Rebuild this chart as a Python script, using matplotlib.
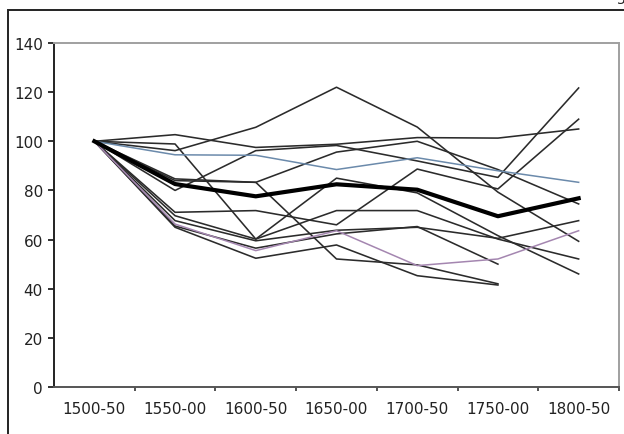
import matplotlib.pyplot as plt
from matplotlib.patches import Rectangle

periods = ["1500-50", "1550-00", "1600-50", "1650-00", "1700-50", "1750-00", "1800-50"]

# thin black series (index 100 = 1500-50); some stop at 1750-00
seriesA = [100, 96.2, 105.7, 122, 105.8, 79.3, 59.3]
seriesB = [100, 102.7, 97.5, 98.8, 101.5, 101.3, 105]
seriesC = [100, 80, 96.2, 98.3, 92, 85.3, 121.7]
seriesD = [100, 84.7, 83.3, 95.6, 100, 88.5, 74.5]
seriesE = [100, 98.9, 60.2, 85, 79, 61.6, 46]
seriesF = [100, 71.1, 71.8, 66, 88.7, 80.6, 109]
seriesG = [100, 69.7, 60.2, 71.8, 71.8, 60.2, 52.1]
seriesH = [100, 67.7, 59.5, 63.8, 65, 60.5, 67.7]
seriesI = [100, 65.5, 56.5, 62.3, 65.3, 50]
seriesJ = [100, 65, 52.4, 57.8, 45.3, 41.5]
seriesK = [100, 84, 83.3, 52.1, 49.7, 42]

blueSeries = [100, 94.5, 94.3, 88.5, 93.3, 88, 83.3]
purpleSeries = [100, 66.3, 55.5, 63.6, 49.4, 52.1, 63.6]
averageSeries = [100, 82.6, 77.6, 82.5, 80.3, 69.5, 76.8]

yTicks = [0, 20, 40, 60, 80, 100, 120, 140]


def makeGraph():
    fig = plt.figure(figsize=(6.24, 4.35), dpi=100)
    ax = fig.add_axes([54/624, 47/435, 565/624, 344/435])

    thinLines = [seriesA, seriesB, seriesC, seriesD, seriesE, seriesF,
                 seriesG, seriesH, seriesI, seriesJ, seriesK]
    for values in thinLines:
        ax.plot(range(len(values)), values, color="#2b2b2b", linewidth=1.15)

    ax.plot(range(len(purpleSeries)), purpleSeries, color="#a486b0", linewidth=1.1)
    ax.plot(range(len(blueSeries)), blueSeries, color="#6b8aab", linewidth=1.1)
    ax.plot(range(len(averageSeries)), averageSeries, color="black", linewidth=3)

    ax.set_xlim(-0.5, len(periods) - 0.5)
    ax.set_ylim(0, 140)
    ax.set_yticks(yTicks)
    ax.set_xticks(range(len(periods)))
    ax.set_xticklabels(periods)
    ax.set_xticks([i + 0.5 for i in range(len(periods))], minor=True)

    ax.tick_params(axis="x", which="major", length=0, pad=10, labelsize=11, colors="#222222")
    ax.tick_params(axis="x", which="minor", length=3, width=1.3, color="#444444")
    ax.tick_params(axis="y", length=4, width=1.3, pad=4, labelsize=11, colors="#222222")

    ax.spines["left"].set_color("#222222")
    ax.spines["bottom"].set_color("#555555")
    ax.spines["top"].set_color("#a0a0a0")
    ax.spines["right"].set_color("#a0a0a0")
    for side in ["left", "bottom", "top", "right"]:
        ax.spines[side].set_linewidth(1.4)

    # page frame around the chart, cut off at the right and bottom
    frame = Rectangle((8/624, -0.05), 1.1, 1 - 11/435 + 0.05, transform=fig.transFigure,
                      fill=False, edgecolor="#222222", linewidth=1.4)
    fig.add_artist(frame)
    # page number peeking in at the top edge, as in the scan
    fig.text(617/624, 1 - 7/435, "5", fontsize=10, color="#222222", ha="left", va="bottom")

    fig.savefig("out.png", dpi=100)


if __name__ == "__main__":
    makeGraph()
